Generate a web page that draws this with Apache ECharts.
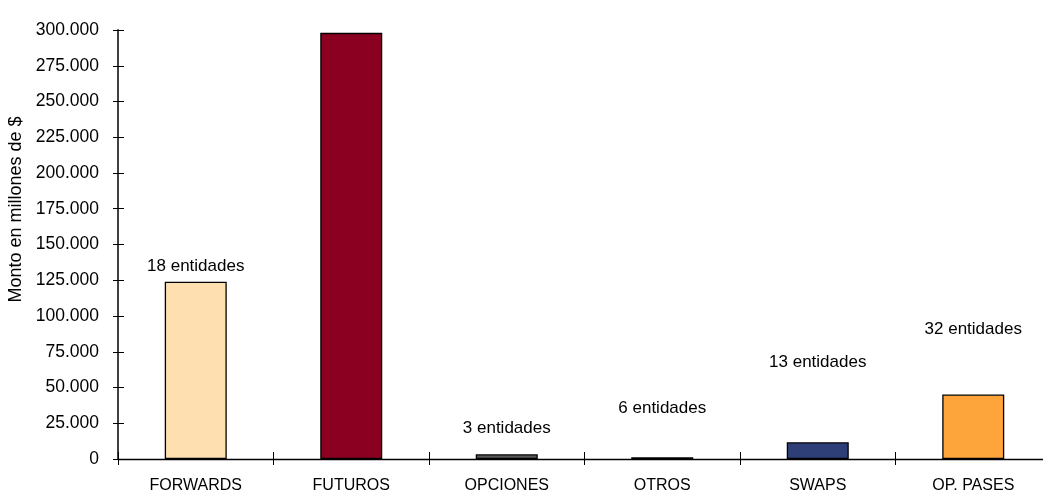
<!DOCTYPE html>
<html><head><meta charset="utf-8">
<script src="https://cdn.jsdelivr.net/npm/echarts@6/dist/echarts.min.js"></script>
<style>html,body{margin:0;padding:0;background:#fff}#c{width:1043px;height:492px}</style>
</head><body><div id="c"></div>
<script>
const categories = ['FORWARDS', 'FUTUROS', 'OPCIONES', 'OTROS', 'SWAPS', 'OP. PASES'];
const montos = [124000, 298000, 3300, 1200, 11700, 45100];
const entidades = ['18 entidades', '31 entidades', '3 entidades', '6 entidades', '13 entidades', '32 entidades'];
const labelHeights = [134500, 306000, 21600, 35600, 67700, 90700];
const colors = ['#FDDFB0', '#8B0020', '#595959', '#1a1a1a', '#2E3F78', '#FDA43A'];
const yTicks = {min: 0, max: 300000, interval: 25000};

const fmt = v => v === 0 ? '0' : String(v).replace(/\B(?=(\d{3})+(?!\d))/g, '.');
const font = 'Liberation Sans';
const chart = echarts.init(document.getElementById('c'));
chart.setOption({
  animation: false,
  textStyle: {fontFamily: font},
  grid: {left: 118, top: 30, bottom: 33, right: -8, outerBoundsMode: 'none', containLabel: false},
  xAxis: [{
    type: 'category', data: categories,
    axisLine: {lineStyle: {color: '#000', width: 1.3}},
    axisTick: {show: true, length: 6, lineStyle: {color: '#000'}},
    axisLabel: {color: '#000', fontSize: 16, margin: 19, fontFamily: font}
  }, {
    type: 'category', data: categories, position: 'bottom',
    axisLine: {show: false},
    axisTick: {show: true, inside: true, length: 7, lineStyle: {color: '#000'}},
    axisLabel: {show: false}
  }],
  yAxis: [{
    type: 'value', min: yTicks.min, max: yTicks.max, interval: yTicks.interval,
    name: 'Monto en millones de $', nameLocation: 'middle', nameGap: 92,
    nameTextStyle: {color: '#000', fontSize: 18, fontFamily: font, padding: [0, 0, 0, 70]},
    axisLine: {show: true, lineStyle: {color: '#404040', width: 2}},
    axisTick: {show: true, length: 5, lineStyle: {color: '#000'}},
    splitLine: {show: false},
    axisLabel: {color: '#000', fontSize: 17.5, margin: 19, formatter: fmt, fontFamily: font}
  }, {
    type: 'value', min: yTicks.min, max: yTicks.max, interval: yTicks.interval, position: 'left',
    axisLine: {show: false},
    axisTick: {show: true, inside: true, length: 6, lineStyle: {color: '#000'}},
    splitLine: {show: false},
    axisLabel: {show: false}
  }],
  series: [{
    type: 'bar', barWidth: 62,
    data: montos.map((v, i) => ({value: v, itemStyle: {color: colors[i], borderColor: '#000', borderWidth: 1.3}}))
  }, {
    type: 'scatter', symbolSize: 0, silent: true,
    itemStyle: {opacity: 1},
    data: labelHeights,
    label: {show: true, position: 'inside', color: '#000', opacity: 1, fontSize: 17, fontFamily: font,
      formatter: p => entidades[p.dataIndex]}
  }]
});
</script></body></html>
